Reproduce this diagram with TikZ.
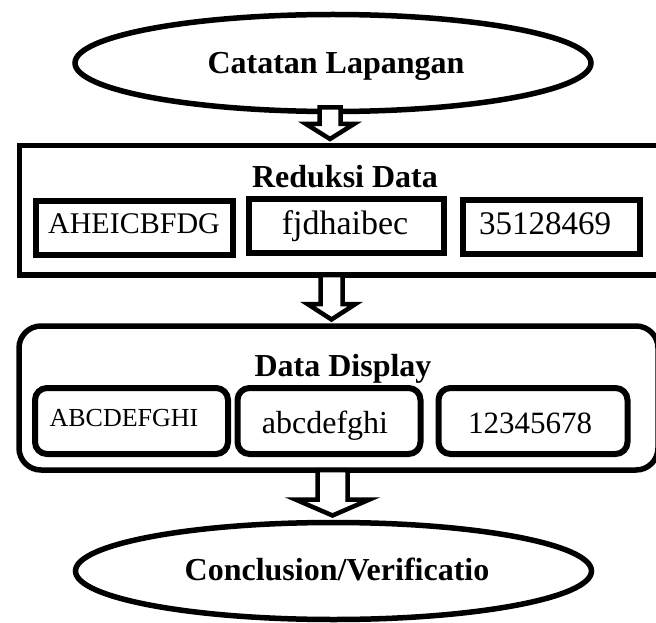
\documentclass[tikz,border=0pt]{standalone}
\usepackage{fontspec}
\setmainfont{Liberation Serif}
\usetikzlibrary{shapes.geometric}
\begin{document}
\begin{tikzpicture}[x=1pt,y=-1pt,
  oval/.style={ellipse,draw,line width=5.5pt,minimum width=516pt,minimum height=97pt,inner sep=0pt},
  frame/.style={draw,line width=5.5pt,inner sep=0pt},
  cell/.style={draw,line width=6pt,inner sep=0pt},
  rcell/.style={cell,rounded corners=12pt},
  title/.style={font=\fontsize{32}{36}\selectfont\bfseries,inner sep=0pt,anchor=base},
  txt/.style={inner sep=0pt,anchor=base},
  blk/.style={draw,fill=white,line width=4.5pt,line join=miter}]
\useasboundingbox (0,0) rectangle (656,623);

% top ellipse
\node[oval] (cat) at (333,63) {};
\node[title] (cattxt) at (336,74) {Catatan Lapangan};

% Reduksi Data frame
\node[frame,minimum width=642.5pt,minimum height=129.5pt] (red) at (340.75,210.25) {};
\node[title] (redtxt) at (345,187) {Reduksi Data};
\node[cell,minimum width=197pt,minimum height=54pt] (r1) at (134.5,227.5) {};
\node[cell,minimum width=195pt,minimum height=54pt] (r2) at (346,225.5) {};
\node[cell,minimum width=177pt,minimum height=54pt] (r3) at (551,226.5) {};
\node[txt,font=\fontsize{30}{34}\selectfont] (r1t) at (134,233) {AHEICBFDG};
\node[txt,font=\fontsize{34}{38}\selectfont] (r2t) at (345,234) {fjdhaibec};
\node[txt,font=\fontsize{33}{37}\selectfont] (r3t) at (545,234) {35128469};

% Data Display frame
\node[frame,rounded corners=22pt,minimum width=639pt,minimum height=144pt] (dis) at (338.5,398) {};
\node[title] (distxt) at (343,376) {Data Display};
\node[rcell,minimum width=193pt,minimum height=66pt] (d1) at (131.5,421) {};
\node[rcell,minimum width=183pt,minimum height=66pt] (d2) at (329,421) {};
\node[rcell,minimum width=189pt,minimum height=66pt] (d3) at (533,421) {};
\node[txt,font=\fontsize{26}{30}\selectfont] (d1t) at (124,426) {ABCDEFGHI};
\node[txt,font=\fontsize{32}{36}\selectfont] (d2t) at (325,433) {abcdefghi};
\node[txt,font=\fontsize{31}{36}\selectfont] (d3t) at (530,433) {12345678};

% bottom ellipse
\node[oval] (con) at (333.5,571) {};
\node[title] (context) at (337,580) {Conclusion/Verificatio};

% block arrows
\coordinate (a1) at (330,107.5);
\coordinate (a2) at (331.5,275);
\coordinate (a3) at (332.5,470);
\draw[blk] (a1) ++(-10.5,0) -- ++(21,0) -- ++(0,16.5) -- ++(13.5,0) -- ++(-24,15) -- ++(-24,-15) -- ++(13.5,0) -- cycle;
\draw[blk] (a2) ++(-11,0) -- ++(22,0) -- ++(0,29) -- ++(13,0) -- ++(-24,15.5) -- ++(-24,-15.5) -- ++(13,0) -- cycle;
\draw[blk] (a3) ++(-15,0) -- ++(30,0) -- ++(0,29.5) -- ++(22,0) -- ++(-37,16) -- ++(-37,-16) -- ++(22,0) -- cycle;
\end{tikzpicture}
\end{document}
